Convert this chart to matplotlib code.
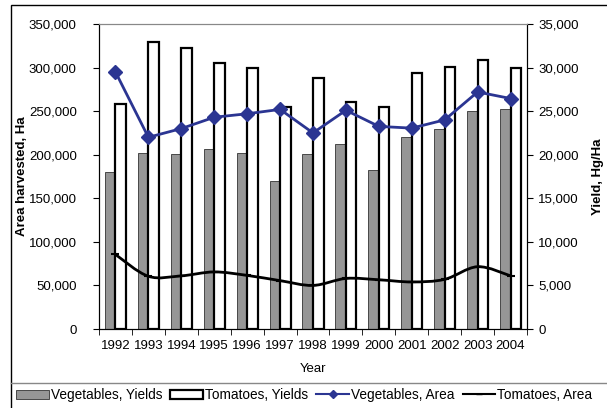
import numpy as np
import matplotlib.pyplot as plt
from matplotlib.path import Path
from matplotlib.patches import PathPatch, Patch, Rectangle
from matplotlib.lines import Line2D
from matplotlib.ticker import FuncFormatter

plt.rcParams['font.family'] = ['Liberation Sans', 'DejaVu Sans']

years = ['1992', '1993', '1994', '1995', '1996', '1997', '1998',
         '1999', '2000', '2001', '2002', '2003', '2004']

# yields, Hg/Ha (right axis)
veg_yield = [18000, 20200, 20100, 20700, 20200, 17000, 20100,
             21200, 18200, 22000, 23000, 25000, 25200]
tom_yield = [25800, 32900, 32300, 30500, 29900, 25500, 28800,
             26000, 25500, 29400, 30100, 30900, 29900]

# area harvested, Ha (left axis)
veg_area = [295000, 220000, 230000, 243000, 247000, 252000, 225000,
            251000, 232500, 230500, 240000, 272000, 264500]
tom_area = [85500, 60500, 61000, 65500, 61500, 55500, 50000,
            58000, 56500, 54000, 57000, 71500, 61000]

blue = '#2B3592'
grey = '#969696'


def smooth_path(x, y):
    # excel-like smoothed line (bezier through every point)
    n = len(x)
    verts = [(x[0], y[0])]
    codes = [Path.MOVETO]
    for i in range(n - 1):
        a = max(i - 1, 0)
        b = min(i + 2, n - 1)
        c1 = (x[i] + (x[i + 1] - x[a]) / 6, y[i] + (y[i + 1] - y[a]) / 6)
        c2 = (x[i + 1] - (x[b] - x[i]) / 6, y[i + 1] - (y[b] - y[i]) / 6)
        verts += [c1, c2, (x[i + 1], y[i + 1])]
        codes += [Path.CURVE4] * 3
    return Path(verts, codes)


fig = plt.figure(figsize=(6.07, 4.08), dpi=100)
ax = fig.add_axes([99 / 607, 1 - 329 / 408, 428 / 607, 305 / 408])
ax2 = ax.twinx()

x = np.arange(len(years))

# bars on the yield axis (drawn underneath)
ax.bar(x - 0.16, veg_yield, width=0.32, color=grey, edgecolor='#333333', lw=0.6)
ax.bar(x + 0.16, tom_yield, width=0.32, color='white', edgecolor='black', lw=1.6)
ax.set_ylim(0, 35000)
ax.set_yticks(np.arange(0, 35001, 5000))
ax.yaxis.tick_right()

# lines on the area axis
ax2.plot(x, veg_area, color=blue, lw=2, marker='D', ms=7, zorder=3)
ax2.add_patch(PathPatch(smooth_path(x, tom_area), fill=False, ec='black', lw=2))
ax2.plot(x, tom_area, ls='none', marker='_', color='black', ms=6, mew=1.5)
ax2.set_ylim(0, 350000)
ax2.set_yticks(np.arange(0, 350001, 50000))
ax2.yaxis.tick_left()

fmt = FuncFormatter(lambda v, p: '{:,.0f}'.format(v))
ax.yaxis.set_major_formatter(fmt)
ax2.yaxis.set_major_formatter(fmt)

ax.set_xlim(-0.5, len(years) - 0.5)
ax.set_xticks(x)
ax.set_xticklabels(years)
ax.set_xticks(np.arange(-0.5, len(years), 1), minor=True)
ax.tick_params(axis='x', which='major', length=0, labelsize=9.5, pad=8)
ax.tick_params(axis='x', which='minor', length=4, direction='out')
ax.tick_params(axis='y', length=4, labelsize=9.5, pad=4)
ax2.tick_params(axis='y', length=4, labelsize=9.5, pad=12)

for a in (ax, ax2):
    a.spines['top'].set_color('#888888')
    a.spines['top'].set_linewidth(0.8)

ax.set_xlabel('Year', fontsize=9.5, labelpad=8)
mid = 0.5 * (2 - 329 / 408 - 24 / 408)
fig.text(22 / 607, mid, 'Area harvested, Ha', rotation=90,
         ha='center', va='center', fontsize=9.5, fontweight='bold')
fig.text(598 / 607, mid, 'Yield, Hg/Ha', rotation=90,
         ha='center', va='center', fontsize=9.5, fontweight='bold')

# outer chart frame and legend box
fig.patches.append(Rectangle((11 / 607, -0.05), 1.0, 0.05 + 1 - 5 / 408,
                             transform=fig.transFigure, fill=False, ec='black', lw=1))
fig.lines.append(Line2D([11 / 607, 1.0], [1 - 383 / 408] * 2,
                        transform=fig.transFigure, color='#888888', lw=1))

handles = [Patch(facecolor=grey, edgecolor='#333333', lw=0.6),
           Patch(facecolor='white', edgecolor='black', lw=1.6),
           Line2D([], [], color=blue, lw=1.5, marker='D', ms=4),
           Line2D([], [], color='black', lw=1.5, marker='_', ms=4)]
labels = ['Vegetables, Yields', 'Tomatoes, Yields', 'Vegetables, Area', 'Tomatoes, Area']
fig.legend(handles, labels, loc='center left', bbox_to_anchor=(16 / 607, 13 / 408),
           ncol=4, frameon=False, fontsize=9.8, handlelength=2.4, handleheight=0.6,
           handletextpad=0.15, columnspacing=0.6, borderpad=0, borderaxespad=0)

plt.savefig('out.png')
